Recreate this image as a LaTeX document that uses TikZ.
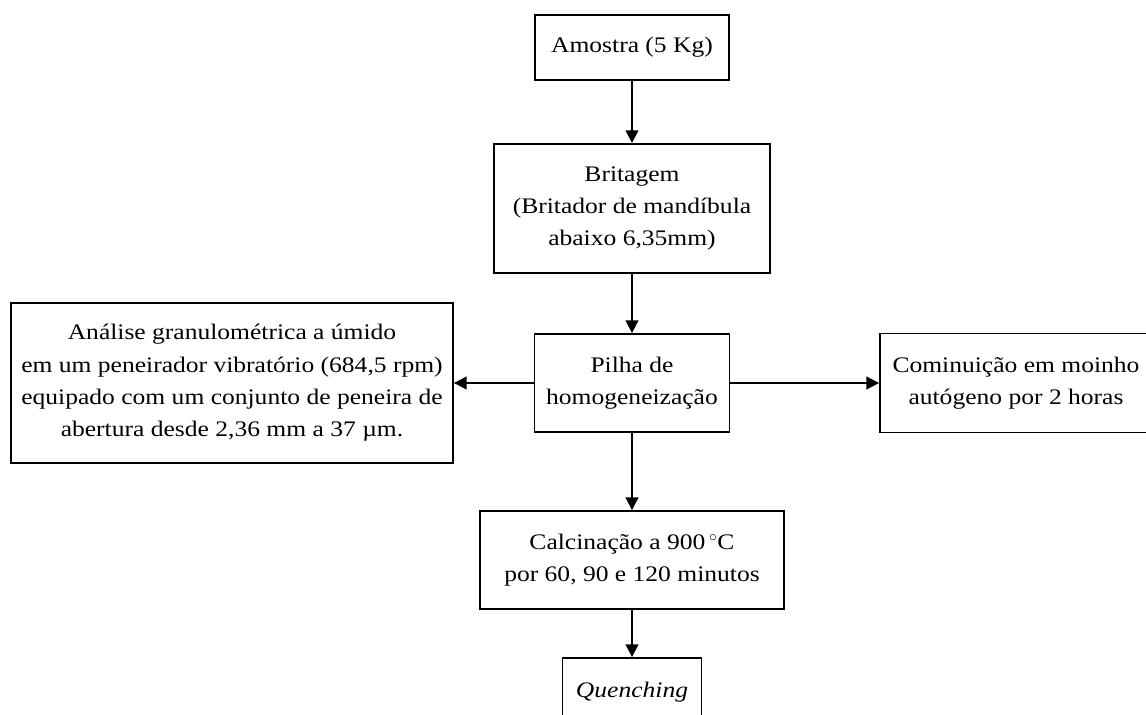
\documentclass[tikz,border=0pt]{standalone}
\usepackage{fontspec}
\setmainfont{Liberation Serif}[FakeStretch=1.15]
\usetikzlibrary{arrows.meta}
\begin{document}
\begin{tikzpicture}[
		thick,
		font=\fontsize{15.8}{23}\selectfont
	]
	\tikzset{
		caixa/.style = {rectangle, draw=black, line width=1.3pt, align=center, inner sep=0pt},
		seta/.style = {-{Triangle[length=9pt,width=9pt]}, line width=1.3pt},
	}
		\useasboundingbox (0,0) rectangle (28.65,-17.875);
		\node[caixa, minimum width=4.85cm, minimum height=1.625cm] at (15.8,-1.19) (amostra) {Amostra (5 Kg)};
		\node[caixa, minimum width=6.9cm, minimum height=3.225cm] at (15.8,-5.21) (britagem) {Britagem\\(Britador de mandíbula\\abaixo 6,35mm)};
		\node[caixa, minimum width=4.875cm, minimum height=2.45cm] at (15.8,-9.575) (pilha) {Pilha de\\homogeneização};
		\node[caixa, minimum width=11.05cm, minimum height=4.0cm] at (5.8,-9.575) (analise) {Análise granulométrica a úmido\\em um peneirador vibratório (684,5 rpm)\\equipado com um conjunto de peneira de\\abertura desde 2,36 mm a 37 µm.};
		\node[caixa, minimum width=6.8cm, minimum height=2.475cm] at (25.4,-9.575) (cominuicao) {Cominuição em moinho\\autógeno por 2 horas};
		\node[caixa, minimum width=7.6cm, minimum height=2.45cm] at (15.8,-14.0) (calcinacao) {Calcinação a 900\,$^{\circ}$C\\por 60, 90 e 120 minutos};
		\node[caixa, minimum width=3.475cm, minimum height=1.7cm] at (15.8,-17.3) (quenching) {\textit{Quenching}};
		%
		\draw[seta] (amostra) edge (britagem);
		\draw[seta] (britagem) edge (pilha);
		\draw[seta] (pilha) edge (analise);
		\draw[seta] (pilha) edge (cominuicao);
		\draw[seta] (pilha) edge (calcinacao);
		\draw[seta] (calcinacao) edge (quenching);
	\end{tikzpicture}
\end{document}
